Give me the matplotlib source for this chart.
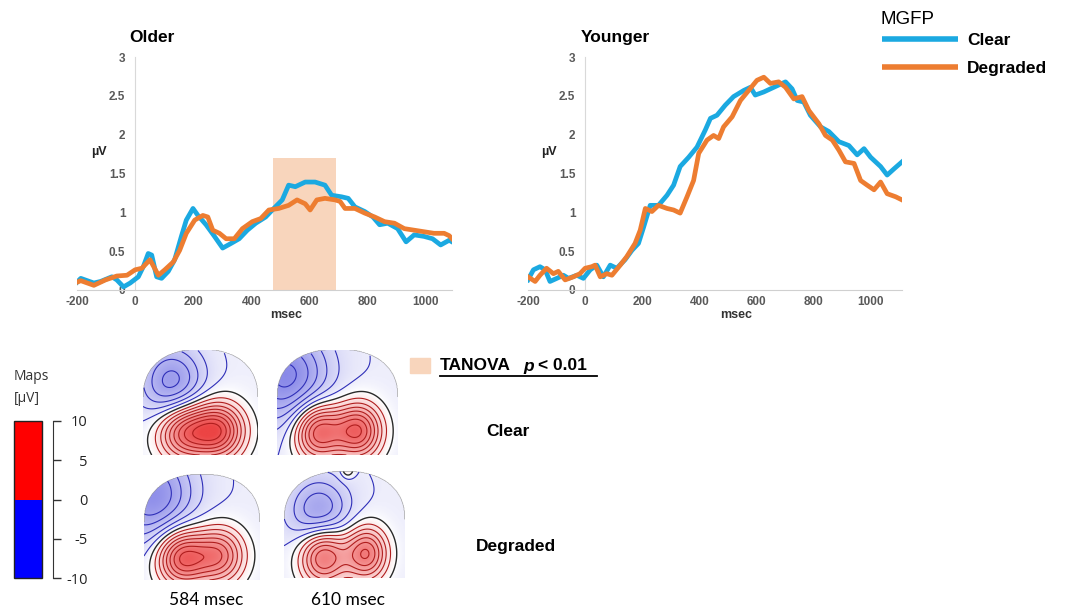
import numpy as np
import matplotlib
matplotlib.use("Agg")
import matplotlib.pyplot as plt
from matplotlib.colors import LinearSegmentedColormap, ListedColormap, Normalize, TwoSlopeNorm
from matplotlib.cm import ScalarMappable
from matplotlib.lines import Line2D
from matplotlib.patches import Rectangle

plt.rcParams['font.family'] = ['Liberation Sans', 'DejaVu Sans']
plt.rcParams['axes.unicode_minus'] = False

W, H = 1070, 608

# MGFP curves (msec, microvolts)
older_clear_t = [-200, -187, -142, -119, -80, -63, -40, -17, 11, 28, 45, 57, 74, 91, 114, 136, 159, 176, 199,
                 216, 244, 273, 301, 330, 358, 386, 415, 449, 477, 506, 528, 551, 585, 619, 653, 676, 710, 733,
                 756, 790, 818, 841, 869, 903, 932, 960, 994, 1023, 1051, 1080, 1090]
older_clear_v = [0.10, 0.15, 0.09, 0.11, 0.17, 0.13, 0.04, 0.09, 0.17, 0.30, 0.47, 0.45, 0.17, 0.15, 0.24, 0.39,
                 0.69, 0.90, 1.05, 0.96, 0.84, 0.69, 0.54, 0.60, 0.66, 0.77, 0.86, 0.94, 1.05, 1.16, 1.35, 1.33,
                 1.39, 1.39, 1.35, 1.22, 1.20, 1.18, 1.07, 1.01, 0.94, 0.84, 0.86, 0.79, 0.62, 0.71, 0.69, 0.66,
                 0.58, 0.64, 0.62]
older_degr_t = [-200, -187, -142, -102, -63, -28, 0, 23, 51, 80, 102, 131, 153, 176, 205, 233, 250, 267, 290,
                313, 341, 369, 403, 432, 460, 494, 528, 557, 585, 602, 625, 653, 688, 705, 722, 756, 790, 824,
                858, 892, 926, 960, 994, 1028, 1063, 1080, 1090]
older_degr_v = [0.10, 0.12, 0.06, 0.13, 0.18, 0.19, 0.26, 0.28, 0.39, 0.19, 0.26, 0.36, 0.51, 0.73, 0.90, 0.96,
                0.94, 0.77, 0.73, 0.66, 0.66, 0.79, 0.88, 0.92, 1.03, 1.05, 1.09, 1.16, 1.11, 1.03, 1.16, 1.18,
                1.16, 1.14, 1.05, 1.05, 0.99, 0.94, 0.88, 0.86, 0.79, 0.77, 0.75, 0.73, 0.73, 0.70, 0.66]

younger_clear_t = [-200, -181, -158, -140, -123, -99, -76, -58, -29, -6, 18, 41, 64, 88, 111, 140, 164, 187, 205,
                   228, 257, 287, 310, 333, 363, 392, 421, 439, 462, 491, 520, 556, 579, 596, 626, 661, 702, 725,
                   743, 766, 789, 825, 854, 889, 924, 953, 977, 1000, 1035, 1058, 1082, 1110]
younger_clear_v = [0.13, 0.26, 0.30, 0.26, 0.11, 0.15, 0.19, 0.15, 0.19, 0.15, 0.26, 0.32, 0.17, 0.32, 0.28,
                   0.39, 0.51, 0.60, 0.81, 1.09, 1.09, 1.22, 1.35, 1.59, 1.71, 1.84, 2.06, 2.21, 2.25, 2.38, 2.49,
                   2.57, 2.61, 2.51, 2.55, 2.61, 2.68, 2.59, 2.44, 2.42, 2.25, 2.10, 2.04, 1.91, 1.86, 1.74, 1.82,
                   1.71, 1.59, 1.48, 1.56, 1.65]
younger_degr_t = [-200, -175, -158, -135, -111, -94, -70, -41, -18, 0, 23, 35, 53, 76, 94, 123, 146, 175, 193,
                  211, 234, 257, 287, 310, 333, 357, 380, 398, 427, 450, 468, 485, 515, 544, 573, 602, 626, 649,
                  678, 702, 731, 760, 784, 819, 842, 866, 889, 912, 942, 965, 988, 1012, 1035, 1058, 1088, 1110]
younger_degr_v = [0.17, 0.11, 0.19, 0.28, 0.21, 0.24, 0.13, 0.17, 0.21, 0.28, 0.30, 0.32, 0.17, 0.21, 0.19, 0.32,
                  0.43, 0.60, 0.77, 1.05, 1.01, 1.09, 1.05, 1.03, 0.99, 1.20, 1.41, 1.76, 1.93, 1.99, 1.95, 2.10,
                  2.23, 2.44, 2.57, 2.70, 2.74, 2.66, 2.68, 2.61, 2.46, 2.49, 2.31, 2.14, 1.99, 1.93, 1.80, 1.65,
                  1.63, 1.41, 1.35, 1.29, 1.39, 1.24, 1.20, 1.16]

tanova_window = (473, 692)
tanova_height = 1.70
x_ticks = [-200, 0, 200, 400, 600, 800, 1000]
y_ticks = [0, 0.5, 1, 1.5, 2, 2.5, 3]
y_ticklabels = ['0', '0.5', '1', '1.5', '2', '2.5', '3']

# topography sources: (u, v, width_u, width_v, amplitude)
map_clear_584 = [(-0.28, 0.22, 0.34, 0.19, 8.0), (0.32, 0.23, 0.32, 0.19, 8.5), (-0.50, 0.68, 0.40, 0.26, -5.2)]
map_clear_610 = [(-0.32, 0.22, 0.28, 0.19, 8.6), (0.34, 0.23, 0.28, 0.19, 8.6), (-0.85, 0.75, 0.50, 0.32, -6.0)]
map_degr_584 = [(-0.35, 0.21, 0.31, 0.19, 8.8), (0.30, 0.23, 0.31, 0.19, 7.0), (-0.85, 0.80, 0.50, 0.32, -5.6)]
map_degr_610 = [(-0.35, 0.21, 0.28, 0.19, 8.4), (0.36, 0.23, 0.25, 0.18, 7.6), (-0.42, 0.60, 0.36, 0.24, -4.8),
                (0.05, 1.02, 0.08, 0.06, 2.6)]
map_offsets = [-0.9, -1.0, -1.0, -1.0]
map_times = ['584 msec', '610 msec']
map_rows = ['Clear', 'Degraded']
cbar_ticks = [-10, -5, 0, 5, 10]

blue = '#1BA9E1'
orange = '#ED7D31'
grey = '#595959'


def fx(px):
    return px / W


def fy(py):
    return 1 - py / H


def box(x0, y0, x1, y1):
    return [fx(x0), fy(y1), (x1 - x0) / W, (y1 - y0) / H]


fig = plt.figure(figsize=(W / 100, H / 100), dpi=100)


def mgfp(ax, ct, cv, dt, dv, xmax, title, shade=False):
    if shade:
        ax.fill_between(tanova_window, 0, tanova_height, color='#F8D5BC', lw=0, zorder=1)
    l1, = ax.plot(ct, cv, color=blue, lw=3.4, solid_joinstyle='round', zorder=3, label='Clear')
    l2, = ax.plot(dt, dv, color=orange, lw=3.4, solid_joinstyle='round', zorder=4, label='Degraded')
    ax.set_xlim(-200, xmax)
    ax.set_ylim(0, 3)
    for s in ['top', 'right']:
        ax.spines[s].set_visible(False)
    ax.spines['left'].set_position(('data', 0))
    ax.spines['left'].set_color('#D9D9D9')
    ax.spines['bottom'].set_color('#D0D0D0')
    ax.set_xticks(x_ticks)
    ax.set_yticks(y_ticks)
    ax.set_yticklabels(y_ticklabels)
    ax.tick_params(length=0, labelsize=8.5, labelcolor=grey)
    ax.tick_params(axis='y', pad=7)
    ax.tick_params(axis='x', pad=4)
    for t in ax.get_xticklabels() + ax.get_yticklabels():
        t.set_fontweight('bold')
    ax.set_xlabel('msec', fontsize=9, fontweight='bold', color='#333333')
    ax.xaxis.set_label_coords(0.557, -0.08)
    ax.text(-125, 1.78, 'µV', fontsize=9, fontweight='bold', ha='center', va='center', color='#222222')
    ax.text(0.14, 1.083, title, transform=ax.transAxes, fontsize=12.5, fontweight='bold', va='center')
    return l1, l2


ax1 = fig.add_axes(box(77, 57, 452, 290))
mgfp(ax1, older_clear_t, older_clear_v, older_degr_t, older_degr_v, 1090, 'Older', shade=True)
ax2 = fig.add_axes(box(528, 57, 902, 290))
h1, h2 = mgfp(ax2, younger_clear_t, younger_clear_v, younger_degr_t, younger_degr_v, 1110, 'Younger')

fig.text(fx(881), fy(20), 'MGFP', fontsize=13.5, va='center')
leg = fig.legend([h1, h2], ['Clear', 'Degraded'], loc='upper left',
                 bbox_to_anchor=(fx(882), fy(33)), frameon=False, handlelength=4.35, handletextpad=0.55,
                 labelspacing=0.75, borderpad=0, borderaxespad=0, prop={'weight': 'bold', 'size': 12.5})
for ln in leg.get_lines():
    ln.set_linewidth(4)
    ln.set_solid_capstyle('butt')

# topographic maps
topo_cmap = LinearSegmentedColormap.from_list('topo', ['#4646dc', '#ffffff', '#ec4444'])
topo_norm = TwoSlopeNorm(vcenter=0, vmin=-11, vmax=9.5)
uu = np.linspace(-1, 1, 240)
vv = np.linspace(0, 1, 200)
U, V = np.meshgrid(uu, vv)
wv = np.clip((V - 0.55) / 0.45, 0, None)
inside = (np.abs(U) ** 2.3 + wv ** 2.3) <= 1


def topo(ax, blobs, offset):
    F = np.full_like(U, offset)
    for cu, cv, su, sv, amp in blobs:
        F += amp * np.exp(-0.5 * ((U - cu) / su) ** 2 - 0.5 * ((V - cv) / sv) ** 2)
    Fm = np.ma.masked_where(~inside, F)
    ax.imshow(Fm, extent=(-1, 1, 0, 1), origin='lower', cmap=topo_cmap, norm=topo_norm,
              aspect='auto', interpolation='bilinear')
    step = 1.1
    neg = np.arange(-step, Fm.min(), -step)[::-1]
    pos = np.arange(step, Fm.max(), step)
    if len(neg):
        ax.contour(U, V, Fm, levels=neg, colors='#2f2fb8', linewidths=0.8, linestyles='solid')
    ax.contour(U, V, Fm, levels=[0], colors='#2a2a2a', linewidths=1.0, linestyles='solid')
    if len(pos):
        ax.contour(U, V, Fm, levels=pos, colors='#b01e1e', linewidths=0.8, linestyles='solid')
    ax.set_xlim(-1, 1)
    ax.set_ylim(0, 1)
    ax.axis('off')


topo(fig.add_axes(box(143, 350, 258, 455)), map_clear_584, map_offsets[0])
topo(fig.add_axes(box(277, 350, 398, 455)), map_clear_610, map_offsets[1])
topo(fig.add_axes(box(144, 474, 260, 580)), map_degr_584, map_offsets[2])
topo(fig.add_axes(box(284, 471, 405, 578)), map_degr_610, map_offsets[3])

fig.text(fx(206), fy(600), map_times[0], fontsize=12.5, family=['Lato', 'DejaVu Sans'], ha='center', va='center')
fig.text(fx(348), fy(600), map_times[1], fontsize=12.5, family=['Lato', 'DejaVu Sans'], ha='center', va='center')
fig.text(fx(508), fy(431), map_rows[0], fontsize=12.5, fontweight='bold', ha='center', va='center')
fig.text(fx(516), fy(546), map_rows[1], fontsize=12.5, fontweight='bold', ha='center', va='center')

# TANOVA key
fig.add_artist(Rectangle((fx(410), fy(373)), 20 / W, 15 / H, color='#F8D5BC', transform=fig.transFigure))
fig.text(fx(440), fy(366), 'TANOVA', fontsize=12.5, fontweight='bold', va='center')
fig.text(fx(523), fy(366), 'p', fontsize=12.5, fontweight='bold', style='italic', va='center')
fig.text(fx(538), fy(366), '< 0.01', fontsize=12.5, fontweight='bold', va='center')
fig.add_artist(Line2D([fx(440), fx(597)], [fy(376), fy(376)], color='k', lw=1.3, transform=fig.transFigure))

# map colour scale
cax = fig.add_axes(box(14, 421, 42, 578))
cb = fig.colorbar(ScalarMappable(norm=Normalize(-10, 10), cmap=ListedColormap(['#0000FF', '#FF0000'])), cax=cax)
cb.outline.set_edgecolor('#222222')
cb.outline.set_linewidth(1)
cb.set_ticks(cbar_ticks)
cax.spines['right'].set_visible(True)
cax.spines['right'].set_position(('outward', 8))
cax.spines['right'].set_color('#333333')
cax.tick_params(axis='y', direction='out', length=6, width=1, color='#333333', pad=19, labelsize=10.5,
                labelcolor='#222222')
for t in cax.get_yticklabels():
    t.set_horizontalalignment('right')
    t.set_family(['Open Sans', 'DejaVu Sans'])
fig.text(fx(14), fy(376), 'Maps', fontsize=10, family=['Open Sans', 'DejaVu Sans'], va='center', color='#333333')
fig.text(fx(14), fy(398), '[µV]', fontsize=10, family=['Open Sans', 'DejaVu Sans'], va='center', color='#333333')

fig.savefig('out.png', dpi=100, facecolor='white')
